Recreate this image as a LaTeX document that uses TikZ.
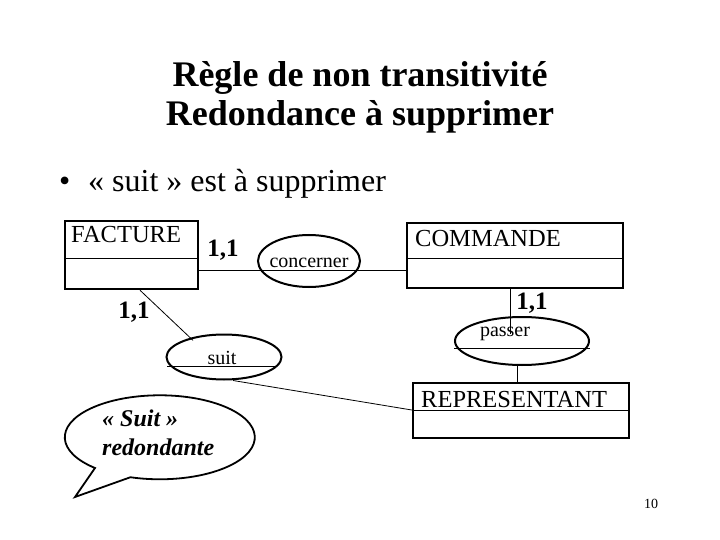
\documentclass[tikz,border=0pt]{standalone}
\usepackage{fontspec}
\setmainfont{Liberation Serif}
\usetikzlibrary{shapes.geometric}

\tikzset{
  entite/.style={draw,line width=2.5pt,inner sep=0pt},
  asso/.style={draw,ellipse,line width=2pt,inner sep=0pt},
  lien/.style={line width=0.8pt},
  card/.style={inner sep=0pt,font=\bfseries\fontsize{25}{25}\selectfont},
  nom/.style={inner sep=0pt,anchor=base west,font=\fontsize{24.5}{25}\selectfont},
  rel/.style={inner sep=0pt,anchor=base,font=\fontsize{20}{20}\selectfont}
}

\begin{document}
\begin{tikzpicture}[x=1pt,y=-1pt]
  \useasboundingbox (0,0) rectangle (720,540);

  % titre
  \node[inner sep=0pt,anchor=base,font=\bfseries\fontsize{36}{39}\selectfont] (titre1) at (360,87) {Règle de non transitivité};
  \node[inner sep=0pt,anchor=base,font=\bfseries\fontsize{36}{39}\selectfont] (titre2) at (360,126) {Redondance à supprimer};
  \node[inner sep=0pt,anchor=base west,font=\fontsize{32}{32}\selectfont] (puce) at (59,192) {•};
  \node[inner sep=0pt,anchor=base west,font=\fontsize{32}{32}\selectfont] (texte) at (88,192) {« suit » est à supprimer};

  % entites
  \node[entite,minimum width=133pt,minimum height=68pt] (fac) at (131.5,255) {};
  \node[nom] (facnom) at (71,242) {FACTURE};
  \draw[lien] (fac.west |- 0,258) -- (fac.east |- 0,258);

  \node[entite,minimum width=216pt,minimum height=65pt] (com) at (515,255.5) {};
  \node[nom] (comnom) at (415,247) {COMMANDE};
  \draw[lien] (com.west |- 0,258) -- (com.east |- 0,258);

  \node[entite,minimum width=216pt,minimum height=55pt] (rep) at (521,410.5) {};
  \node[nom] (repnom) at (421,407) {REPRESENTANT};
  \draw[lien] (rep.west |- 0,410) -- (rep.east |- 0,410);

  % associations
  \node[asso,minimum width=102pt,minimum height=52pt] (con) at (309,261) {};
  \node[rel] (connom) at (309,267) {concerner};
  \draw[lien] (fac.east |- 0,270) -- (com.west |- 0,270);

  \node[asso,minimum width=134pt,minimum height=48pt] (pas) at (522,341) {};
  \node[rel] (pasnom) at (505,336) {passer};
  \draw[lien] (pas.west |- 0,348) -- (pas.east |- 0,348);
  \coordinate (pasfin) at (510,334);
  \draw[lien] (com.south -| pasfin) -- (pasfin);
  \draw[lien] (pas.south -| 517,0) -- (rep.north -| 517,0);

  \node[asso,minimum width=115pt,minimum height=45pt] (sui) at (224,357) {};
  \node[rel] (suinom) at (222,364) {suit};
  \draw[lien] (167,366) -- (275,366);
  \draw[lien] (fac.south -| 140,0) -- (sui.north west -| 193,0);
  \draw[lien] (sui.south -| 233,0) -- (rep.west |- 0,410);

  % cardinalites
  \node[card] (c1) at (223,250) {1,1};
  \node[card] (c2) at (134,312) {1,1};
  \node[card] (c3) at (532,303) {1,1};

  % bulle
  \draw[line width=1.8pt] (75,497) -- (95,468) arc[start angle=133,end angle=468,x radius=95,y radius=42] -- cycle;
  \node[inner sep=0pt,anchor=west,align=left,font=\bfseries\itshape\fontsize{24}{29}\selectfont] (bulle) at (102,433) {« Suit »\\redondante};

  \node[inner sep=0pt,anchor=base,font=\fontsize{14}{14}\selectfont] (page) at (651,508) {10};
\end{tikzpicture}
\end{document}
